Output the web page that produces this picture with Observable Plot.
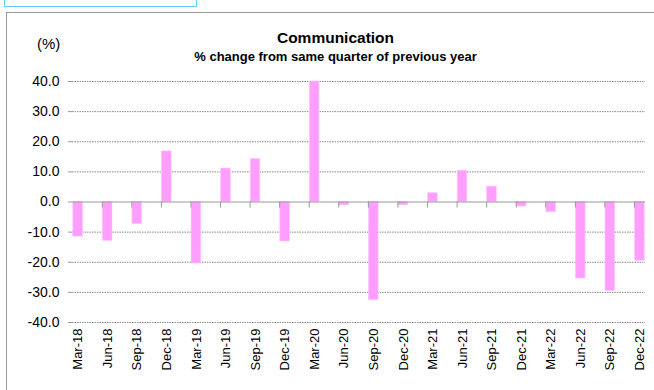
<!DOCTYPE html>
<html><head><meta charset="utf-8">
<script src="https://cdn.jsdelivr.net/npm/d3@7"></script>
<script src="https://cdn.jsdelivr.net/npm/@observablehq/plot@0.6"></script>
<style>
html,body{margin:0;padding:0;background:#fff;}
#wrap{position:relative;width:654px;height:390px;overflow:hidden;}
#chart{position:absolute;left:0;top:0;}
.t{position:absolute;font-family:"Liberation Sans Narrow","Liberation Sans",sans-serif;color:#000;white-space:nowrap;}
#blue{position:absolute;left:4px;top:-3px;width:191px;height:8px;border:1.5px solid #66ccff;}
#frame{position:absolute;left:6px;top:12px;width:660px;height:400px;border-left:1.5px solid #999;border-top:1.5px solid #999;}
</style></head>
<body><div id="wrap">
<div id="frame"></div>
<div id="blue"></div>
<div id="chart"></div>
<div class="t" id="title" style="left:0;width:671px;top:29px;text-align:center;font-weight:bold;font-size:15.5px;">Communication</div>
<div class="t" id="sub" style="left:0;width:671px;top:49px;text-align:center;font-weight:bold;font-size:13px;">% change from same quarter of previous year</div>
<div class="t" style="left:37px;top:35px;font-size:15px;">(%)</div>
</div>
<script>
const quarters = ["Mar-18","Jun-18","Sep-18","Dec-18","Mar-19","Jun-19","Sep-19","Dec-19","Mar-20","Jun-20","Sep-20","Dec-20","Mar-21","Jun-21","Sep-21","Dec-21","Mar-22","Jun-22","Sep-22","Dec-22"];
const values = [-11.5,-12.9,-7.3,16.8,-20.4,11.1,14.3,-13.1,40.0,-1.1,-32.6,-1.1,2.9,10.4,5.1,-1.5,-3.4,-25.4,-29.5,-19.5];
const yTicks = [-40,-30,-20,-10,0,10,20,30,40];

const data = quarters.map((q,i)=>({q, v: values[i]}));

const W = 654, H = 390, mL = 72, mR = 9, mT = 81, mB = 68;
const padIn = 0.675, padOut = 0.0275;
const band = d3.scaleBand().domain(quarters).range([mL, W - mR]).paddingInner(padIn).paddingOuter(padOut);
const bw = band.bandwidth();

const chart = Plot.plot({
  width: W, height: H,
  marginLeft: mL, marginRight: mR, marginTop: mT, marginBottom: mB,
  x: {type: "band", domain: quarters, paddingInner: padIn, paddingOuter: padOut, round: false},
  y: {domain: [-40, 40]},
  style: {fontFamily: "Liberation Sans, sans-serif", background: "transparent", color: "#000"},
  marks: [
    Plot.gridY(yTicks.filter(d => d !== 0), {stroke: "#888", strokeOpacity: 1, strokeDasharray: "1.5,1"}),
    Plot.barY(data, {x: "q", y: "v", fill: "#ff9eff", stroke: "#ffc4ff", strokeWidth: 0.6}),
    Plot.ruleY([0], {stroke: "#999", strokeWidth: 1.2}),
    Plot.ruleX(quarters.slice(1), {x: d => d, y1: 0, y2: -2, stroke: "#999", dx: -bw/2 - 0.6}),
    Plot.axisY({ticks: yTicks, tickFormat: d => d.toFixed(1), tickSize: 4, tickPadding: 9, stroke: "#999", fontSize: 14, fontFamily: "Liberation Sans Narrow, Liberation Sans, sans-serif", label: null, line: true}),
    Plot.axisX({tickRotate: -90, tickSize: 0, tickPadding: 6, fontSize: 13, label: null})
  ]
});
document.getElementById("chart").appendChild(chart);
</script>
</body></html>
